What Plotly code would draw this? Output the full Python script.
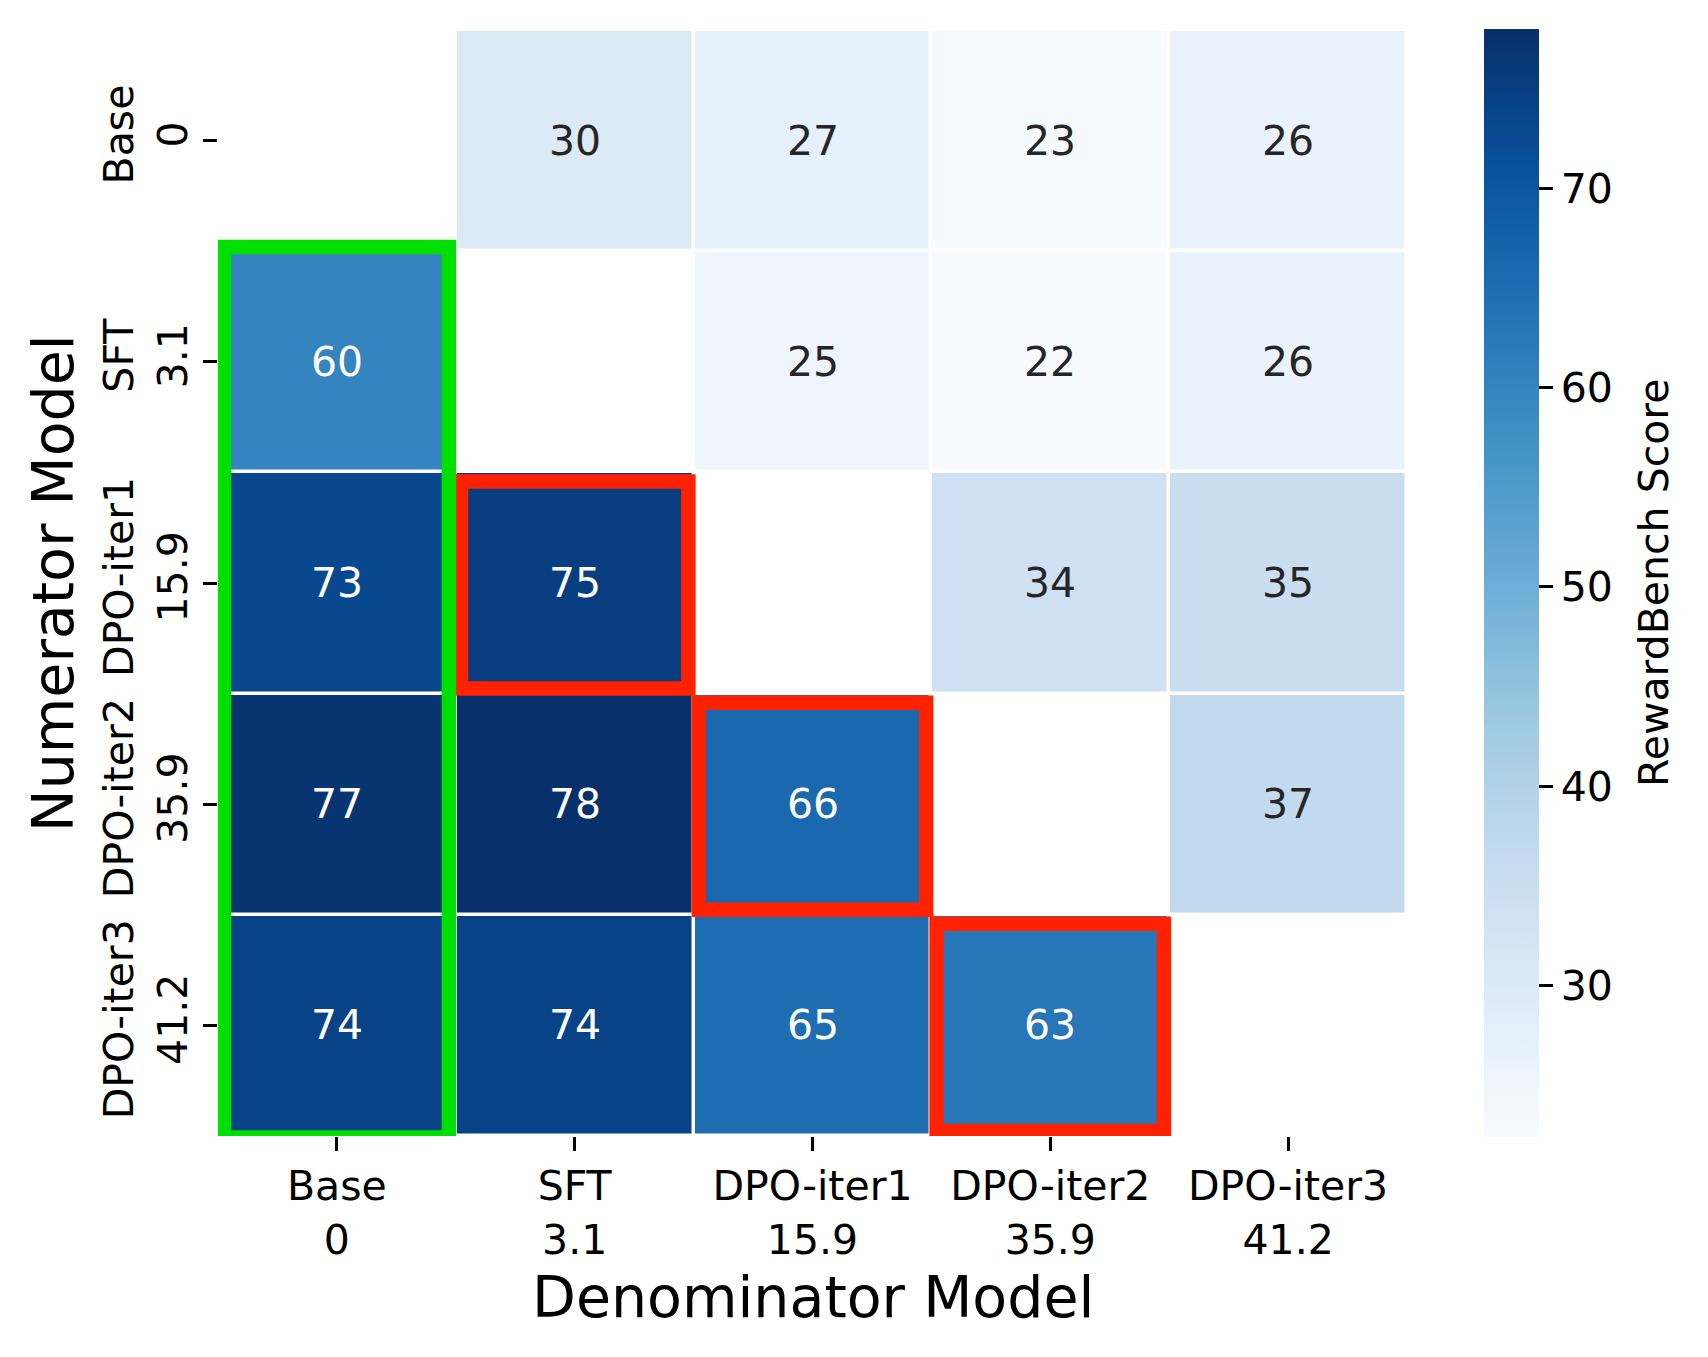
import plotly.graph_objects as go

# ---- data ----
numerator_models = ["Base", "SFT", "DPO-iter1", "DPO-iter2", "DPO-iter3"]
numerator_scores = ["0", "3.1", "15.9", "35.9", "41.2"]
denominator_models = ["Base", "SFT", "DPO-iter1", "DPO-iter2", "DPO-iter3"]
denominator_scores = ["0", "3.1", "15.9", "35.9", "41.2"]

row_base = [None, 30, 27, 23, 26]
row_sft = [60, None, 25, 22.4, 26]
row_iter1 = [73, 75, None, 34, 35]
row_iter2 = [77, 78, 66, None, 37]
row_iter3 = [74, 74, 65, 63, None]

colorbar_ticks = [30, 40, 50, 60, 70]
colorbar_label = "RewardBench Score"
x_title = "Denominator Model"
y_title = "Numerator Model"

# highlighted cells: (row, col)
red_cells = [(2, 1), (3, 2), (4, 3)]
green_col = 0
green_rows = (1, 4)

# ---- figure ----
z = [row_base, row_sft, row_iter1, row_iter2, row_iter3]
n_rows = len(z)
n_cols = len(z[0])

blues = [
    "rgb(247,251,255)", "rgb(222,235,247)", "rgb(198,219,239)",
    "rgb(158,202,225)", "rgb(107,174,214)", "rgb(66,146,198)",
    "rgb(33,113,181)", "rgb(8,81,156)", "rgb(8,48,107)",
]
colorscale = [[i / (len(blues) - 1), c] for i, c in enumerate(blues)]

FONT = "DejaVu Sans"

fig = go.Figure()
fig.add_trace(go.Heatmap(
    z=z,
    x=list(range(n_cols)),
    y=list(range(n_rows)),
    colorscale=colorscale,
    xgap=3.5, ygap=3.5,
    hoverongaps=False,
    colorbar=dict(
        x=1.0648, xanchor="left", xpad=0,
        y=0.5, yanchor="middle", ypad=0,
        lenmode="pixels", len=1108,
        thickness=55, thicknessmode="pixels",
        outlinewidth=0, borderwidth=0,
        tickvals=colorbar_ticks,
        ticktext=[str(t) for t in colorbar_ticks],
        ticks="outside", ticklen=14, tickwidth=3, tickcolor="black",
        tickfont=dict(family=FONT, size=41, color="black"),
    ),
))

# cell annotations
flat = [v for r in z for v in r if v is not None]
vmin, vmax = min(flat), max(flat)
for r in range(n_rows):
    for c in range(n_cols):
        v = z[r][c]
        if v is None:
            continue
        frac = (v - vmin) / (vmax - vmin)
        color = "white" if frac > 0.42 else "#262626"
        fig.add_annotation(x=c, y=r, text=f"{v:.0f}", showarrow=False,
                           font=dict(family=FONT, size=41, color=color))

# red boxes
for (r, c) in red_cells:
    fig.add_shape(type="rect", xref="x", yref="y",
                  x0=c - 0.478, x1=c + 0.478, y0=r - 0.459, y1=r + 0.477,
                  line=dict(color="#ff2200", width=14.5), layer="above")

# green box
fig.add_shape(type="rect", xref="x", yref="y",
              x0=green_col - 0.475, x1=green_col + 0.471,
              y0=green_rows[0] - 0.519, y1=green_rows[1] + 0.507,
              line=dict(color="#00e000", width=14.5), layer="above")

fig.update_xaxes(
    range=[-0.5, n_cols - 0.5],
    tickvals=list(range(n_cols)),
    ticktext=[f"{m}<br>{s}" for m, s in zip(denominator_models, denominator_scores)],
    ticks="outside", ticklen=14, tickwidth=3, tickcolor="black",
    tickfont=dict(family=FONT, size=41, color="black"),
    showgrid=False, zeroline=False, showline=False,
)
fig.update_yaxes(
    range=[n_rows - 0.5, -0.5],
    tickvals=list(range(n_rows)),
    ticktext=[f"{m}<br>{s}" for m, s in zip(numerator_models, numerator_scores)],
    tickangle=-90,
    ticks="outside", ticklen=14, tickwidth=3, tickcolor="black",
    tickfont=dict(family=FONT, size=41, color="black"),
    showgrid=False, zeroline=False, showline=False,
)

# axis titles and colorbar label
fig.add_annotation(text=x_title, xref="paper", yref="paper", x=0.5, y=-0.1456,
                   xanchor="center", yanchor="middle", showarrow=False,
                   font=dict(family=FONT, size=57, color="black"))
fig.add_annotation(text=y_title, xref="paper", yref="paper", x=-0.1388, y=0.5,
                   xanchor="center", yanchor="middle", textangle=-90, showarrow=False,
                   font=dict(family=FONT, size=57, color="black"))
fig.add_annotation(text=colorbar_label, xref="paper", yref="paper", x=1.2077, y=0.5,
                   xanchor="center", yanchor="middle", textangle=-90, showarrow=False,
                   font=dict(family=FONT, size=41, color="black"))

fig.update_layout(
    width=1700, height=1349,
    margin=dict(l=210, r=301, t=22, b=221, pad=0),
    plot_bgcolor="white", paper_bgcolor="white",
    font=dict(family=FONT),
    showlegend=False,
)

fig.write_html("out.html")
